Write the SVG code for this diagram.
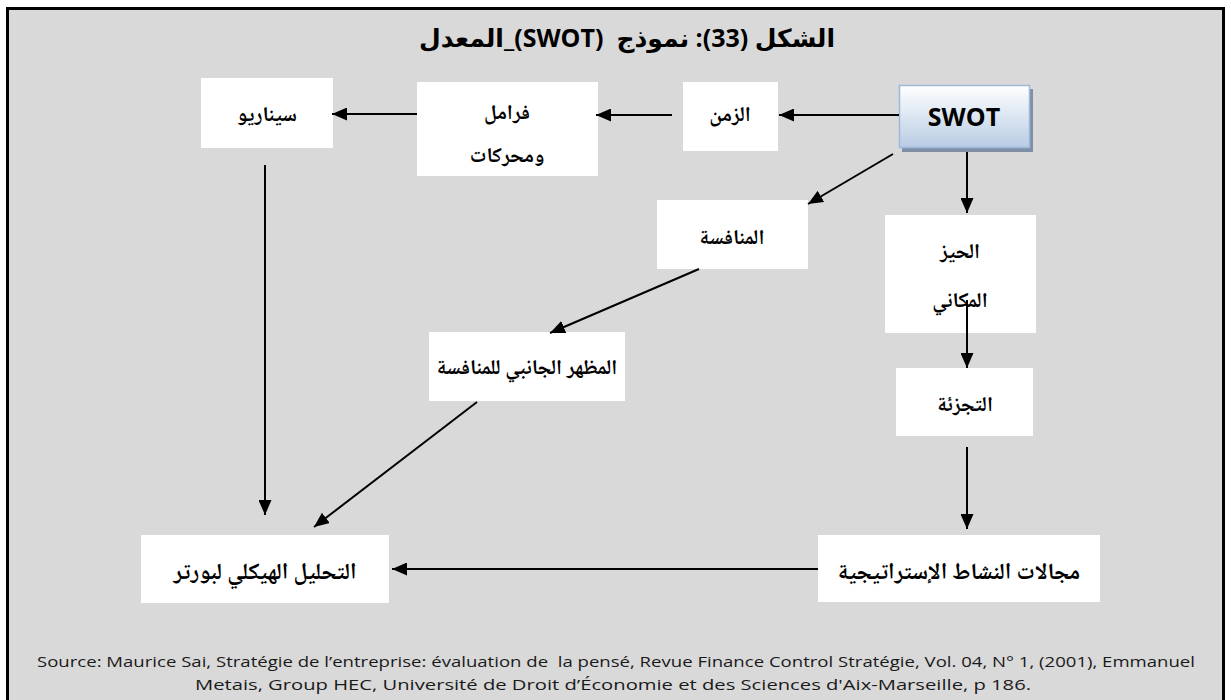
<svg xmlns="http://www.w3.org/2000/svg" width="1231" height="700" viewBox="0 0 1231 700">
  <defs>
    <linearGradient id="swotFill" x1="0" y1="0" x2="0" y2="1">
      <stop offset="0" stop-color="#ffffff"/>
      <stop offset="1" stop-color="#b8cce4"/>
    </linearGradient>
    <marker id="arrow" markerUnits="userSpaceOnUse" markerWidth="15" markerHeight="13" refX="15" refY="6.5" orient="auto">
      <path d="M0,0 L15,6.5 L0,13 Z" fill="#000"/>
    </marker>
  </defs>
  <style>
    .box { fill: #ffffff; }
    .ar { font-family: "Noto Naskh Arabic", "DejaVu Sans", sans-serif; font-weight: bold; font-size: 21px; fill: #000; text-anchor: middle; direction: rtl; }
    .ar-l { font-size: 23px; }
    .edge { fill: none; stroke: #000; stroke-width: 2; marker-end: url(#arrow); }
    .src { font-family: "Open Sans", "Liberation Sans", sans-serif; font-size: 15px; fill: #1a1a1a; text-anchor: middle; white-space: pre; }
  </style>

  <!-- page frame -->
  <rect x="7.5" y="8.5" width="1216" height="720" fill="#d9d9d9" stroke="#000" stroke-width="3"/>

  <!-- title -->
  <text x="627" y="47" font-family="Open Sans, DejaVu Sans, sans-serif" font-weight="bold" font-size="25" text-anchor="middle" direction="rtl" fill="#000" style="white-space: pre">الشكل (<tspan font-family="Open Sans, sans-serif">33</tspan>): نموذج  (<tspan font-family="Open Sans, sans-serif">SWOT</tspan>)_المعدل</text>

  <!-- nodes -->
  <g id="node-swot">
    <rect x="902" y="89" width="131" height="63" fill="#7f8fa6"/>
    <rect x="899.5" y="85.5" width="130" height="62" fill="url(#swotFill)" stroke="#9fb9da" stroke-width="1.5"/>
    <text x="964" y="126" font-family="Open Sans, Liberation Sans, sans-serif" font-weight="bold" font-size="25" text-anchor="middle" fill="#000">SWOT</text>
  </g>
  <g id="node-zaman">
    <rect class="box" x="683" y="82" width="95" height="69"/>
    <text class="ar" x="730" y="121">الزمن</text>
  </g>
  <g id="node-faramil">
    <rect class="box" x="417" y="82" width="181" height="94"/>
    <text class="ar" x="507" y="119">فرامل</text>
    <text class="ar" x="507" y="162">ومحركات</text>
  </g>
  <g id="node-senario">
    <rect class="box" x="201" y="78" width="132" height="70"/>
    <text class="ar" x="267" y="121">سيناريو</text>
  </g>
  <g id="node-munafasa">
    <rect class="box" x="657" y="200" width="151" height="69"/>
    <text class="ar" x="732" y="244">المنافسة</text>
  </g>
  <g id="node-hayyiz">
    <rect class="box" x="885" y="215" width="151" height="118"/>
    <text class="ar" x="960" y="258">الحيز</text>
    <text class="ar" x="960" y="307">المكاني</text>
  </g>
  <g id="node-madhhar">
    <rect class="box" x="429" y="332" width="196" height="69"/>
    <text class="ar" x="527" y="374">المظهر الجانبي للمنافسة</text>
  </g>
  <g id="node-tajzia">
    <rect class="box" x="896" y="368" width="137" height="68"/>
    <text class="ar" x="965" y="411">التجزئة</text>
  </g>
  <g id="node-majalat">
    <rect class="box" x="818" y="535" width="282" height="67"/>
    <text class="ar ar-l" x="959" y="579">مجالات النشاط الإستراتيجية</text>
  </g>
  <g id="node-tahlil">
    <rect class="box" x="141" y="535" width="248" height="68"/>
    <text class="ar ar-l" x="265" y="579">التحليل الهيكلي لبورتر</text>
  </g>

  <!-- connectors -->
  <g id="connectors">
    <path class="edge" d="M899,115 L779,115"/>
    <path class="edge" d="M672,115 L596,115"/>
    <path class="edge" d="M417,114 L332,114"/>
    <path class="edge" d="M265,165 L265,515"/>
    <path class="edge" d="M893,154 L808,204"/>
    <path class="edge" d="M967,152 L967,213"/>
    <path class="edge" d="M699,269 L550,333"/>
    <path class="edge" d="M477,402 L314,527"/>
    <path class="edge" d="M967,300 L967,368"/>
    <path class="edge" d="M967,447 L967,529"/>
    <path class="edge" d="M818,569 L392,569"/>
  </g>

  <!-- source note -->
  <text class="src" x="616" y="667" textLength="1158" lengthAdjust="spacingAndGlyphs">Source: Maurice Sai, Stratégie de l’entreprise: évaluation de  la pensé, Revue Finance Control Stratégie, Vol. 04, N° 1, (2001), Emmanuel</text>
  <text class="src" x="613" y="690" textLength="836" lengthAdjust="spacingAndGlyphs">Metais, Group HEC, Université de Droit d’Économie et des Sciences d'Aix-Marseille, p 186.</text>
</svg>
